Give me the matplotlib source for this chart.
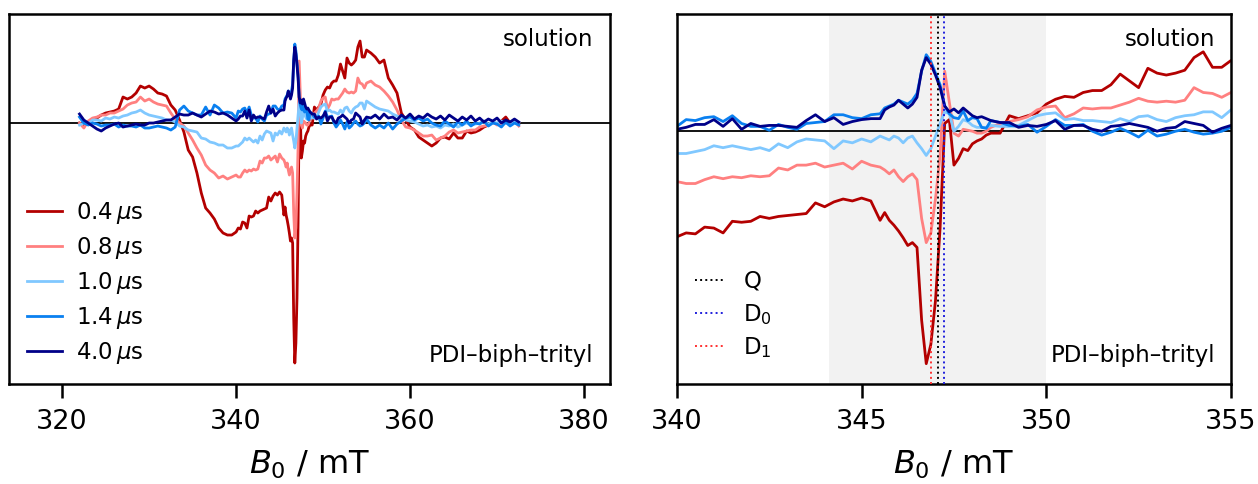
"""
Field-swept trEPR spectra of PDI-biph-trityl in solution, full sweep and zoom
"""

import numpy as np
import matplotlib
matplotlib.use('Agg')
import matplotlib.pyplot as plt

# magnetic field grid (mT): coarse in the wings, finer around the centre line
field = np.concatenate([
    np.arange(322.0, 340.0, 0.5),
    np.arange(340.0, 345.5, 0.25),
    np.arange(345.5, 348.5, 0.125),
    np.arange(348.5, 355.25, 0.25),
    np.arange(355.5, 373.0, 0.5),
])

# signal (arb. units), one list per delay after the laser flash
sig_04 = [
    0.00, -0.02, 0.01, 0.03, 0.05, 0.08, 0.10, 0.11, 0.12, 0.14,
    0.26, 0.24, 0.26, 0.30, 0.37, 0.35, 0.37, 0.34, 0.30, 0.29,
    0.27, 0.18, 0.13, 0.03, -0.09, -0.27, -0.34, -0.50, -0.70, -0.85,
    -0.90, -0.96, -1.05, -1.10, -1.12, -1.12,
    -1.09, -1.05, -1.06, -0.99, -1.00, -1.05, -0.93, -0.94, -0.93, -0.88,
    -0.90, -0.88, -0.87, -0.86, -0.85, -0.74, -0.78, -0.73, -0.70, -0.72,
    -0.69, -0.72,
    -0.92, -0.84, -0.92, -0.97, -1.03, -1.10, -1.18, -1.15, -1.20, -1.95,
    -2.40, -2.20, -1.75, -1.00, 0.08, 0.12, -0.35, -0.28, -0.18, -0.20,
    -0.13, -0.10, -0.08, -0.04,
    -0.02, -0.02, 0.16, 0.13, 0.16, 0.19, 0.28, 0.33, 0.36, 0.35,
    0.40, 0.42, 0.42, 0.48, 0.59, 0.52, 0.45, 0.65, 0.60, 0.58,
    0.60, 0.63, 0.76, 0.82, 0.66, 0.66, 0.73,
    0.70, 0.66, 0.60, 0.63, 0.45, 0.38, 0.30, 0.10, 0.03, -0.04,
    -0.07, -0.14, -0.17, -0.20, -0.23, -0.20, -0.15, -0.14, -0.16, -0.10,
    -0.15, -0.15, -0.08, -0.10, -0.09, -0.07, -0.04, -0.02, 0.01, -0.01,
    0.02, 0.06, 0.00, 0.03, 0.00,
]
sig_08 = [
    0.00, -0.05, 0.02, 0.05, 0.06, 0.08, 0.08, 0.10, 0.10, 0.12,
    0.14, 0.18, 0.20, 0.21, 0.26, 0.22, 0.24, 0.21, 0.19, 0.18,
    0.17, 0.10, 0.04, 0.00, -0.03, -0.10, -0.17, -0.25, -0.32, -0.42,
    -0.47, -0.50, -0.55, -0.53, -0.56, -0.54,
    -0.52, -0.54, -0.54, -0.50, -0.47, -0.49, -0.47, -0.48, -0.46, -0.47,
    -0.46, -0.38, -0.40, -0.35, -0.35, -0.33, -0.37, -0.35, -0.33, -0.39,
    -0.31, -0.35,
    -0.37, -0.40, -0.44, -0.40, -0.47, -0.52, -0.47, -0.44, -0.50, -0.90,
    -1.15, -1.05, -0.70, -0.25, 0.62, 0.30, -0.02, -0.05, 0.02, 0.01,
    0.00, -0.02, -0.02, 0.00,
    0.04, 0.08, 0.10, 0.12, 0.15, 0.22, 0.25, 0.26, 0.14, 0.18,
    0.24, 0.23, 0.24, 0.24, 0.27, 0.30, 0.34, 0.31, 0.30, 0.31,
    0.30, 0.32, 0.45, 0.40, 0.39, 0.35, 0.40,
    0.42, 0.38, 0.36, 0.32, 0.27, 0.21, 0.13, 0.03, -0.04, -0.05,
    -0.07, -0.10, -0.13, -0.13, -0.12, -0.17, -0.15, -0.13, -0.09, -0.07,
    -0.10, -0.09, -0.08, -0.07, -0.07, -0.04, -0.03, -0.02, 0.01, -0.02,
    0.00, 0.00, 0.01, 0.02, -0.03,
]
sig_10 = [
    -0.02, 0.00, -0.01, 0.03, 0.03, 0.02, 0.05, 0.04, 0.06, 0.05,
    0.07, 0.08, 0.10, 0.11, 0.13, 0.10, 0.08, 0.07, 0.06, 0.05,
    0.03, 0.03, 0.01, -0.03, -0.04, -0.07, -0.08, -0.09, -0.15, -0.16,
    -0.19, -0.20, -0.22, -0.22, -0.25, -0.25,
    -0.23, -0.23, -0.21, -0.19, -0.15, -0.17, -0.15, -0.17, -0.19, -0.17,
    -0.20, -0.13, -0.17, -0.11, -0.08, -0.09, -0.10, -0.18, -0.10, -0.12,
    -0.08, -0.11,
    -0.05, -0.07, -0.09, -0.05, -0.07, -0.12, -0.07, -0.05, -0.12, -0.18,
    -0.25, -0.18, -0.05, 0.08, 0.20, 0.18, 0.00, 0.05, 0.12, 0.10,
    0.06, 0.04, 0.04, 0.04,
    0.06, 0.05, 0.05, 0.06, 0.11, 0.16, 0.18, 0.19, 0.12, 0.13,
    0.11, 0.11, 0.10, 0.09, 0.13, 0.10, 0.15, 0.16, 0.12, 0.10,
    0.14, 0.16, 0.17, 0.20, 0.20, 0.14, 0.22,
    0.19, 0.16, 0.14, 0.13, 0.12, 0.09, 0.07, 0.05, 0.03, 0.02,
    0.01, -0.01, -0.03, -0.02, -0.04, -0.03, -0.05, -0.02, -0.03, -0.01,
    -0.04, -0.02, 0.00, -0.02, -0.01, 0.00, 0.01, -0.01, 0.01, 0.00,
    0.02, 0.00, -0.02, 0.01, 0.00,
]
sig_14 = [
    0.06, 0.00, -0.02, 0.00, -0.01, -0.03, -0.02, -0.02, -0.01, -0.04,
    -0.02, -0.03, -0.03, -0.04, -0.02, -0.05, -0.05, -0.04, -0.03, -0.04,
    -0.05, -0.07, -0.04, 0.13, 0.17, 0.12, 0.10, 0.08, 0.08, 0.16,
    0.08, 0.18, 0.15, 0.10, 0.11, 0.10,
    0.05, 0.12, 0.11, 0.14, 0.15, 0.10, 0.16, 0.08, 0.05, 0.05,
    0.01, 0.07, 0.04, 0.02, 0.08, 0.09, 0.10, 0.17, 0.17, 0.14,
    0.13, 0.17,
    0.18, 0.24, 0.26, 0.28, 0.32, 0.30, 0.28, 0.32, 0.39, 0.62,
    0.79, 0.72, 0.60, 0.48, 0.26, 0.18, 0.14, 0.13, 0.21, 0.11,
    0.14, 0.13, 0.04, 0.03,
    0.11, 0.09, 0.06, 0.05, 0.07, -0.01, 0.05, 0.12, 0.06, 0.06,
    0.07, 0.00, -0.04, -0.01, 0.03, -0.01, -0.06, 0.01, -0.05, -0.03,
    0.00, 0.02, -0.01, -0.03, -0.02, 0.00, 0.04,
    -0.02, -0.05, -0.02, -0.05, 0.00, -0.06, -0.01, 0.02, 0.05, 0.06,
    0.03, 0.05, 0.02, 0.04, 0.00, -0.02, -0.03, 0.02, -0.01, -0.04,
    0.01, -0.02, 0.02, -0.03, 0.00, -0.01, 0.02, -0.03, 0.00, -0.01,
    -0.04, 0.01, -0.03, 0.00, -0.02,
]
sig_40 = [
    0.09, 0.03, 0.00, -0.03, -0.06, -0.08, -0.05, -0.03, -0.01, 0.00,
    -0.04, -0.03, -0.02, -0.01, -0.02, -0.02, 0.00, 0.00, 0.01, 0.02,
    0.03, 0.03, 0.06, 0.09, 0.08, 0.08, 0.10, 0.08, 0.06, 0.09,
    0.12, 0.11, 0.09, 0.10, 0.08, 0.05,
    0.02, 0.04, 0.07, 0.07, 0.12, 0.05, 0.13, 0.02, 0.08, 0.05,
    0.06, 0.06, 0.05, 0.04, 0.11, 0.17, 0.10, 0.14, 0.07, 0.10,
    0.12, 0.13,
    0.13, 0.22, 0.25, 0.27, 0.32, 0.28, 0.24, 0.28, 0.35, 0.63,
    0.76, 0.69, 0.58, 0.45, 0.26, 0.20, 0.23, 0.19, 0.24, 0.20,
    0.16, 0.14, 0.15, 0.13,
    0.11, 0.09, 0.09, 0.04, 0.06, 0.05, 0.07, 0.11, 0.02, 0.06,
    0.06, 0.02, 0.00, 0.05, 0.06, 0.08, 0.06, 0.04, 0.00, 0.03,
    0.04, 0.10, 0.08, 0.06, -0.01, 0.03, 0.06,
    0.05, 0.08, 0.04, 0.09, 0.05, 0.06, 0.03, 0.08, 0.05, 0.09,
    0.04, 0.07, 0.05, 0.09, 0.06, 0.04, 0.07, 0.03, 0.08, 0.05,
    0.02, 0.06, 0.03, 0.07, 0.02, 0.05, 0.01, 0.04, 0.02, 0.05,
    0.00, 0.03, 0.01, 0.04, 0.01,
]

delays = ['0.4', '0.8', '1.0', '1.4', '4.0']
traces = [sig_04, sig_08, sig_10, sig_14, sig_40]
colors = ['#b30000', '#ff8080', '#80c8ff', '#0a80f0', '#000088']

# simulated line positions (mT) and the zoomed region
markers = ['Q', 'D$_0$', 'D$_1$']
marker_pos = [347.07, 347.24, 346.89]
marker_colors = ['black', '#2020dd', '#ff3030']
shade_range = (344.13, 350.0)

plt.rcParams.update({
    'font.family': 'DejaVu Sans',
    'mathtext.fontset': 'dejavusans',
    'axes.linewidth': 1.8,
    'xtick.major.width': 1.8,
    'xtick.major.size': 10,
    'xtick.direction': 'out',
    'xtick.labelsize': 19.5,
})

fig = plt.figure(figsize=(12.58, 4.84), dpi=100)
ax1 = fig.add_axes([0.0072, 0.2066, 0.4778, 0.7644])
ax2 = fig.add_axes([0.5381, 0.2066, 0.4404, 0.7644])

# Panel 1: full sweep
ax1.axhline(0, color='black', lw=1.3, zorder=1)
for d, y, c in zip(delays, traces, colors):
    ax1.plot(field, y, color=c, lw=2.0, label=d + r'$\,\mu$s', zorder=2)
ax1.set_xlim(313.9, 383.0)
ax1.set_ylim(-2.61, 1.09)
ax1.set_xticks([320, 340, 360, 380])
ax1.legend(loc='lower left', frameon=False, fontsize=16.5, handlelength=1.5,
           handletextpad=0.6, labelspacing=0.39, borderaxespad=0.4)

# Panel 2: zoom around the centre line
ax2.axvspan(*shade_range, color='#f2f2f2', lw=0, zorder=0)
ax2.axhline(0, color='black', lw=1.3, zorder=1)
for y, c in zip(traces, colors):
    ax2.plot(field, y, color=c, lw=2.0, zorder=2)
for m, p, c in zip(markers, marker_pos, marker_colors):
    ax2.axvline(p, color=c, ls=':', lw=1.4, label=m, zorder=3)
ax2.set_xlim(340, 355)
ax2.set_ylim(-2.61, 1.21)
ax2.set_xticks([340, 345, 350, 355])
ax2.legend(loc='lower left', frameon=False, fontsize=16.5, handlelength=1.3,
           handletextpad=0.8, labelspacing=0.38, borderaxespad=0.4,
           bbox_to_anchor=(0.0, 0.015))

for ax in (ax1, ax2):
    ax.set_yticks([])
    ax.tick_params(axis='x', pad=8)
    ax.set_xlabel(r'$B_0$ / mT', fontsize=23, labelpad=10)
    ax.text(0.972, 0.962, 'solution', transform=ax.transAxes,
            ha='right', va='top', fontsize=16.5)
    ax.text(0.972, 0.06, 'PDI\u2013biph\u2013trityl', transform=ax.transAxes,
            ha='right', va='baseline', fontsize=16.5)

plt.savefig('out.png', dpi=100)
